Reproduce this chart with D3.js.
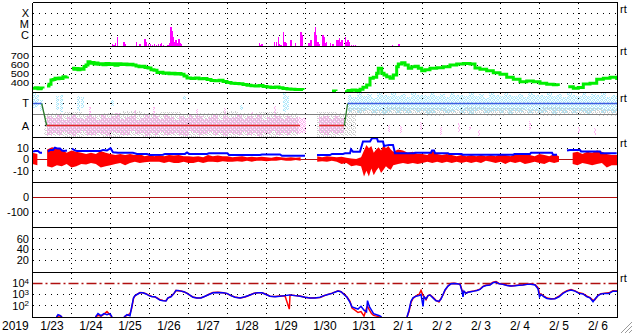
<!DOCTYPE html>
<html><head><meta charset="utf-8">
<script src="https://cdn.jsdelivr.net/npm/d3@7"></script>
<style>
body{margin:0;background:#fff}
svg{display:block}
text{font-family:"Liberation Sans",Arial,sans-serif;font-size:12px;fill:#000}
</style></head>
<body><svg id="c" width="633" height="334"></svg>
<script>
// ---------- DATA (time = days since 2019-01-23 00:00 UT) ----------
const year = "2019";
const dayLabels = ["1/23","1/24","1/25","1/26","1/27","1/28","1/29","1/30","1/31","2/ 1","2/ 2","2/ 3","2/ 4","2/ 5","2/ 6"];

// X-ray flux (hourly bars)
const xrayDay  = [1.756,2.031,2.072,2.115,2.159,2.2,2.328,2.372,2.654,2.738,2.867,2.903,2.962,3.013,3.064,3.115,3.167,3.218,3.269,3.295,3.346,3.456,3.5,3.533,3.559,3.595,3.628,3.662,3.697,3.738,3.782,3.808,5.005,5.705,5.808,5.833,5.867,6.192,6.236,6.287,6.321,6.354,6.423,6.456,6.492,6.61,6.731,6.867,6.892,6.995,7.072,7.123,7.21,7.236,7.269,7.303,7.338,7.431,7.456,7.482,7.526,7.628,7.687,7.774,7.815,7.851,7.885,7.918,8.013,8.038,8.072,8.097,8.167,8.218,8.269,9.21,9.372,9.397];
const xrayFlux = [1.1e-7,1.7e-7,1.4e-7,1.9e-7,6.9e-7,1.1e-7,2.6e-7,1.7e-7,2.6e-7,1.7e-7,4.5e-7,2.4e-7,1.8e-7,1.7e-7,1.4e-7,1.7e-7,1.4e-7,1.8e-7,1.7e-7,2.2e-7,1.4e-7,1.4e-7,1.9e-7,5.6e-6,2.8e-6,7.8e-7,2.8e-7,3.9e-7,2.2e-7,4.5e-7,1.9e-7,1.6e-7,1.1e-7,1.1e-7,1.9e-7,1.4e-7,1.6e-7,2.6e-7,2.6e-7,6.9e-7,1.7e-7,1.4e-7,2.1e-6,2.6e-7,1.9e-7,3.9e-7,1.9e-7,2.1e-6,1.1e-6,1.1e-7,1.9e-7,3.9e-7,2.1e-6,5.6e-6,1.05e-6,2.6e-7,1.6e-7,1.2e-6,7.8e-7,1.9e-7,2.6e-7,1.9e-7,1.6e-7,3.9e-7,3.9e-7,5.9e-7,2.6e-7,3.9e-7,7.8e-7,2.8e-7,3.9e-7,2.6e-7,1.3e-7,1.3e-7,1.3e-7,1.5e-7,1.7e-7,1.7e-7];

// Solar wind speed (km/s), null = gap
const speedDay = [0.013,0.077,0.141,0.218,0.269,0.3,0.372,0.423,0.474,0.526,0.577,0.628,0.679,0.731,0.782,0.833,0.897,0.93,1.013,1.064,1.115,1.167,1.218,1.269,1.321,1.372,1.423,1.474,1.526,1.577,1.628,1.679,1.731,1.808,1.885,1.962,2.038,2.115,2.192,2.269,2.346,2.423,2.5,2.577,2.654,2.731,2.808,2.885,2.962,3.038,3.115,3.192,3.269,3.346,3.423,3.5,3.577,3.654,3.731,3.808,3.885,3.962,4.064,4.167,4.269,4.372,4.474,4.577,4.679,4.782,4.885,4.987,5.09,5.192,5.295,5.397,5.5,5.603,5.705,5.808,5.91,6.013,6.115,6.218,6.321,6.423,6.526,6.628,6.731,6.833,6.936,6.97,7.679,7.782,7.85,8.013,8.09,8.192,8.295,8.397,8.474,8.569,8.654,8.738,8.826,8.867,8.954,9.013,9.082,9.167,9.251,9.338,9.379,9.467,9.551,9.636,9.723,9.808,9.892,9.979,10.064,10.192,10.364,10.533,10.705,10.877,11.046,11.218,11.346,11.474,11.646,11.815,11.987,12.159,12.328,12.5,12.672,12.841,13.013,13.185,13.354,13.482,13.55,13.738,13.867,13.995,14.123,14.295,14.467,14.636,14.808,14.979];
const speedVal = [341,346,337,344,340,null,367,385,433,440,452,446,456,449,470,466,473,null,563,552,560,548,557,553,583,600,637,620,627,612,622,608,613,604,616,606,613,598,614,606,612,603,609,600,588,580,586,572,566,546,542,516,520,507,512,504,509,500,506,498,478,455,450,456,446,450,440,428,425,430,418,405,398,395,392,384,376,370,366,372,362,355,350,356,348,340,333,330,327,329,322,null,312,310,null,303,316,322,318,330,352,378,452,463,508,563,508,490,470,452,489,581,611,626,600,563,581,585,563,537,548,563,570,581,600,611,618,611,567,552,537,515,496,463,441,415,422,415,396,385,380,367,null,359,341,350,389,396,441,452,463,433];

// IMF sector polarity
const sectorDay = [0,0.236,0.364,6.86,6.9,7.35,7.995,8.08,15];
const sectorPol = ["T","T","A","A",null,"A","A","T","T"];
// IMF angle scatter (degrees), 3-hour bins
const awayDay = [0.375,0.5,0.625,0.75,0.875,1,1.125,1.25,1.375,1.5,1.625,1.75,1.875,2,2.125,2.25,2.375,2.5,2.625,2.75,2.875,3,3.125,3.25,3.375,3.5,3.625,3.75,3.875,4,4.125,4.25,4.375,4.5,4.625,4.75,4.875,5,5.125,5.25,5.375,5.5,5.625,5.75,5.875,6,6.125,6.25,6.375,6.5,6.625,6.75,6.875,7.35,7.475,7.6,7.725,7.85];
const awayLo  = [20,35,15,40,25,10,30,45,20,15,35,25,10,40,30,20,15,45,25,35,10,30,20,40,15,25,35,20,10,45,30,15,25,40,20,35,10,30,25,15,40,20,30,10,35,25,45,15,30,20,40,25,35,30,20,40,25,35];
const awayHi  = [165,150,175,140,160,185,155,145,170,160,135,175,150,165,190,145,160,170,140,155,180,150,165,145,175,160,140,170,155,185,150,165,145,160,175,140,170,155,160,180,145,165,150,175,140,160,155,170,145,165,150,160,155,160,170,145,165,150];
const towardDay = [8.08,8.205,8.33,8.455,8.58,8.705,8.83,8.955,9.08,9.205,9.33,9.455,9.58,9.705,9.83,9.955,10.08,10.205,10.33,10.455,10.58,10.705,10.83,10.955,11.08,11.205,11.33,11.455,11.58,11.705,11.83,11.955,12.08,12.205,12.33,12.455,12.58,12.705,12.83,12.955,13.08,13.205,13.33,13.455,13.58,13.705,13.83,13.955,14.08,14.205,14.33,14.455,14.58,14.705,14.83,14.955];
const towardLo  = [200,215,190,205,220,195,210,185,200,215,195,205,190,220,200,210,185,195,215,205,190,200,220,195,210,185,205,215,190,200,210,195,220,185,205,200,215,190,210,195,200,220,185,205,195,215,190,210,200,185,205,220,195,210,190,200];
const towardHi  = [340,320,350,330,345,315,355,335,325,350,330,345,320,355,335,340,325,350,330,345,320,355,335,340,325,350,330,345,315,355,335,325,350,340,330,345,320,355,335,340,325,350,330,345,320,355,340,330,350,325,345,335,350,320,340,330];
const otherDay = [0.3,0.8,1.3,1.8,2.3,2.8,3.3,3.8,4.3,4.8,5.3,5.8,6.3,7.3,7.8,8.1,8.6,9.1,9.6,10.1,10.6,11.1,11.6,12.1,12.6,13.1,13.6,14.1,14.5];
const otherLo  = [5,0,10,0,5,0,10,0,5,0,10,0,5,0,10,175,170,180,175,170,180,175,170,180,175,170,180,175,170];
const otherHi  = [190,200,185,195,205,190,200,185,195,205,190,200,195,200,190,235,225,240,230,235,225,240,230,235,225,240,230,235,225];
const towardSpikeDay = [0.02,0.1,0.2,0.6,0.7,1.15,1.25,2.0,3.86,5.32,6.42,6.5];
const towardSpikeLo  = [230,240,210,220,200,210,230,250,300,220,200,220];
const towardSpikeHi  = [350,340,300,330,340,330,320,300,330,260,350,330];
const awaySpikeDay = [1.45,2.6,3.1,4.2,4.9,5.6,6.2,9.12,9.42,9.94,10.45,10.9,11.2,11.42,12.73,13.99,14.4];
const awaySpikeLo  = [120,130,125,140,120,135,130,40,30,60,20,40,50,10,60,30,20];
const awaySpikeHi  = [240,215,250,225,235,210,245,100,90,120,80,110,90,60,130,80,70];

// IMF |B| (nT)
const btDay = [0.013,0.064,0.141,0.192,0.244,0.3,0.397,0.449,0.526,0.577,0.628,0.705,0.756,0.808,0.885,0.93,1.013,1.064,1.141,1.218,1.346,1.474,1.603,1.731,1.808,1.91,2.0,2.064,2.192,2.372,2.577,2.679,2.936,3.013,3.346,3.397,3.91,3.962,4.013,4.474,4.526,5.0,5.038,5.833,5.885,6.346,6.397,6.987,7.1,7.295,7.628,7.679,7.962,8.013,8.141,8.167,8.218,8.397,8.423,8.474,8.654,8.705,8.833,8.859,8.987,9.013,9.141,9.244,9.295,9.782,9.808,10.218,10.244,10.295,10.321,10.654,10.679,11.0,11.026,12.333,12.359,12.756,12.782,13.321,13.346,13.449,13.5,13.705,13.782,14.038,14.064,14.551,14.577,14.979];
const btVal = [7,7.5,7.5,6,6,null,7,8.5,8.5,10.5,9.8,9.8,8,7.5,8,null,9.8,8.5,7.5,7.5,7.5,7.5,7.5,7.5,8.5,8,10,6.5,6,6,6,5,5,4,4.2,5,5,6.3,5,5,5.5,5.5,4,4,4.5,4.5,3.3,3.3,null,4,4,5,5,5.5,5.5,9,7,7,10,16,16,19,19,16,16,12,13,13,5.6,5.6,6,6,8,8,5.6,5.6,5,5,4.3,4.3,5,5,6,6,4.3,4.3,null,8,8.5,8.5,7.2,7.2,5.6,5.6];

// IMF Bz (nT) envelope per 3-hour bin
const bzDay = [0,0.125,0.25,0.375,0.5,0.625,0.75,0.875,1.0,1.125,1.25,1.375,1.5,1.625,1.75,1.875,2.0,2.125,2.25,2.375,2.5,2.625,2.75,2.875,3.0,3.125,3.25,3.375,3.5,3.625,3.75,3.875,4.0,4.125,4.25,4.375,4.5,4.625,4.75,4.875,5.0,5.125,5.25,5.375,5.5,5.625,5.75,5.875,6.0,6.125,6.25,6.375,6.5,6.625,6.75,6.875,6.975,7.3,7.425,7.55,7.675,7.8,7.925,8.05,8.175,8.3,8.425,8.5,8.5625,8.625,8.6875,8.75,8.8125,8.875,8.9375,9.0,9.0625,9.125,9.1875,9.25,9.375,9.5,9.625,9.75,9.875,10.0,10.125,10.25,10.375,10.5,10.625,10.75,10.875,11.0,11.125,11.25,11.375,11.5,11.625,11.75,11.875,12.0,12.125,12.25,12.375,12.5,12.625,12.75,12.875,13.0,13.125,13.25,13.375,13.5,13.56,13.85,13.975,14.1,14.225,14.35,14.475,14.6,14.725,14.85,15.0];
const bzHi = [6,5,null,9,11,10,9,6,8,7,6,5,6,5,7.5,6,5,4,5,4,5,4,5,3,4,3,4,3,4,3.5,4,3,3,2.5,3,2,4,3,3.5,3,3,2,2.5,3,2,2.5,2,2.5,2,1.5,2.5,2,1.5,2,1.5,2,null,3,2,3,2.5,2,2.5,1.5,1,0.5,2,8,13,10,12,6,9,11,8,13,10,12,9,7,9,8,6,7,5,5,4,8,5,4,5,4,3,4,3,4,3,4,3,4,3,5,4,3,5,4,5,4,3,5,4,3,5,3,null,6,7,5,7,6,8,7,5,4,4];
const bzLo = [-4,-5,null,-6,-7,-5,-6,-4,-7,-6,-4,-4.5,-3,-4,-7,-6,-5,-4,-3,-5,-3,-2,-3,-2.5,-2,-2,-2,-3,-2,-3,-3,-2,-3,-3,-2,-3,-2,-2,-2.5,-1.5,-2,-2,-1.5,-2,-1,-2,-1,-1,-1.5,-1,-1,-0.5,-1,-1,-0.5,-1,null,-2,-1.5,-2,-1,-2,-4,-3,-6,-5,-6,-15,-10,-15,-8,-14,-10,-7,-12,-9,-6,-8,-9,-5,-4,-3,-4,-3,-4,-3,-2,-3,-2,-3,-2,-3,-2,-3,-2,-3,-2,-3,-1,-2,-3,-2,-4,-2,-3,-2,-4,-3,-2,-3,-4,-2,-3,-2,null,-4,-5,-3,-4,-5,-4,-3,-7,-5,-5];

// Proton flux (two channels)
const protonDay = [0.58,0.615,0.654,0.705,0.756,0.782,1.577,1.615,1.679,1.756,1.833,1.91,1.987,2.038,2.09,2.321,2.346,2.423,2.5,2.538,2.564,2.59,2.628,2.679,2.756,2.833,2.91,2.987,3.064,3.141,3.218,3.269,3.346,3.423,3.474,3.551,3.628,3.679,3.731,3.808,3.885,3.962,4.038,4.115,4.218,4.321,4.423,4.526,4.628,4.756,4.885,4.987,5.09,5.192,5.321,5.449,5.577,5.679,5.782,5.885,5.987,6.09,6.218,6.346,6.474,6.585,6.603,6.731,6.859,6.987,7.115,7.244,7.372,7.474,7.577,7.679,7.782,7.833,7.91,7.987,8.064,8.141,8.192,8.269,8.346,8.423,8.5,8.564,8.59,8.641,8.692,8.744,8.821,8.897,8.949,9.0,9.577,9.603,9.654,9.705,9.756,9.833,9.91,9.962,10.013,10.038,10.09,10.141,10.192,10.269,10.346,10.423,10.474,10.526,10.577,10.654,10.731,10.808,10.885,10.962,11.013,11.038,11.064,11.115,11.167,11.244,11.321,11.397,11.474,11.551,11.628,11.731,11.808,11.885,11.962,12.064,12.167,12.269,12.372,12.474,12.577,12.679,12.782,12.885,12.962,13.0,13.038,13.115,13.192,13.295,13.397,13.5,13.603,13.705,13.808,13.91,14.013,14.115,14.218,14.295,14.372,14.423,14.5,14.577,14.679,14.782,14.885,14.987];
const protonBlue = [null,10,16,14,10,null,null,10,20,13,20,16,20,10,null,null,10,16,13,63,178,501,794,1000,1413,1413,1122,794,631,631,417,316,282,263,501,631,1259,2239,2239,1995,1778,1259,891,562,501,501,708,1000,1413,1514,1413,1259,794,562,501,631,891,1259,1413,1413,1000,708,631,708,794,891,891,794,708,562,501,501,562,794,1000,1259,1778,1995,1778,1000,562,200,79,63,50,89,40,28,282,79,40,20,16,13,10,null,null,10,40,251,501,708,794,1000,89,631,398,794,891,501,282,251,398,1000,2512,5623,8913,9333,8913,7943,1995,631,1995,1259,1585,1778,1995,2239,2818,5012,6310,7079,11220,12589,8913,7943,6310,5623,6026,6607,7079,7943,8318,7079,3162,631,1000,631,447,398,417,631,1259,1995,2512,1995,1259,1122,631,501,224,398,794,1122,1259,1259,1995,1995];
const protonRed  = [null,10,12,13,10,null,null,10,14,12,18,30,16,10,null,null,10,14,20,50,150,450,760,1050,1500,1450,1200,850,680,600,450,340,300,280,480,680,1200,2300,2100,2000,1700,1300,850,600,480,520,680,1050,1500,1600,1400,1200,800,600,500,600,900,1300,1450,1400,1050,700,650,720,780,50,900,800,750,580,500,520,550,780,1020,1300,1800,2100,1750,1100,600,250,63,40,25,30,12,60,89,40,20,14,12,10,10,null,null,10,30,200,450,760,1000,2290,800,700,350,800,950,550,300,220,450,900,2300,5800,9500,10000,9200,8500,2500,1500,1800,1400,1600,1900,2100,2400,3000,5300,6600,7500,12500,14000,9500,8200,6600,5800,6300,6900,7400,8300,8900,7600,4000,1200,1100,700,480,420,450,700,1400,2200,2700,2100,1400,1200,700,520,300,350,850,1200,1300,1400,2200,2100];

// axis tick labels
const xrayTicks = [1e-4,1e-5,1e-6], xrayNames = ["X","M","C"];
const speedTicks = [700,600,500,400];
const sectorTicks = [270,90], sectorNames = ["T","A"];
const bzTicks = [10,0,-10];
const dstTicks = [0,-100];
const kTicks = [60,40,20];
const protonTicks = [1e4,1e3,1e2];

// ---------- LAYOUT ----------
const svg = d3.select("#c");
const X0 = 32.5, X1 = 617.5;
const edges = [2.5,46.5,92,137,182,227,272,317.5];
const t0 = Date.UTC(2019,0,23);
const toDate = d => new Date(t0 + d*864e5);
const x = d3.scaleUtc().domain([toDate(0), toDate(15)]).range([X0, X1]);
const xd = d => x(toDate(d));
const snap = v => Math.floor(v) + 0.5;

const yX = d3.scaleLog().domain([1e-7,1e-3]).range([46.5,2.5]).clamp(true);
const yV = d3.scaleLinear().domain([300,800]).range([92,47]);
const yS = d3.scaleLinear().domain([0,360]).range([137,92]);
const yB = d3.scaleLinear().domain([-20,20]).range([182,137]);
const yD = d3.scaleLinear().domain([-200,100]).range([227,182]);
const yK = d3.scaleLinear().domain([-2,82]).range([272,227]);
const yP = d3.scaleLog().domain([10,1e5]).range([317,272]).clamp(true);

const defs = svg.append("defs");
edges.slice(0,-1).forEach((t,i)=>{
  defs.append("clipPath").attr("id","cp"+i).append("rect")
    .attr("x",X0).attr("y",t).attr("width",X1-X0).attr("height",edges[i+1]-t);
});
function pat(id,color,cells){
  const p = defs.append("pattern").attr("id",id).attr("patternUnits","userSpaceOnUse")
    .attr("width",4).attr("height",4);
  cells.forEach(([a,b])=>
    p.append("rect").attr("x",a).attr("y",b).attr("width",1).attr("height",1).attr("fill",color));
}
const cellsA = [[0,0],[2,0],[1,1],[3,1],[0,2],[3,2],[1,3],[2,3]];
const cellsB = [[1,0],[3,0],[0,1],[2,2],[1,2],[3,3]];
pat("pPink","#ffb2f2",cellsA); pat("pBlue","#aee8fb",cellsA); pat("pGray","#cfcfcf",cellsB);

const grid = svg.append("g").attr("shape-rendering","crispEdges");
function hgrid(y){
  grid.append("line").attr("x1",X0).attr("x2",X1).attr("y1",snap(y)).attr("y2",snap(y))
    .attr("stroke","#000").attr("stroke-dasharray","1,5");
}
d3.range(1,15).forEach(d=>{
  grid.append("line").attr("x1",snap(xd(d))).attr("x2",snap(xd(d))).attr("y1",edges[0]).attr("y2",edges[7])
    .attr("stroke","#000").attr("stroke-dasharray","1,4");
});
xrayTicks.forEach(v=>hgrid(yX(v)));
speedTicks.forEach(v=>hgrid(yV(v)));
sectorTicks.forEach(v=>hgrid(yS(v)));
bzTicks.filter(v=>v!==0).forEach(v=>hgrid(yB(v)));
dstTicks.filter(v=>v!==0).forEach(v=>hgrid(yD(v)));
kTicks.forEach(v=>hgrid(yK(v)));
protonTicks.filter(v=>v<1e4).forEach(v=>hgrid(yP(v)));

const dark = "#b01010";
// ---------- Panel 1: X-ray ----------
const g1 = svg.append("g").attr("clip-path","url(#cp0)").attr("shape-rendering","crispEdges");
g1.selectAll("rect").data(xrayDay.map((d,i)=>({d,v:xrayFlux[i]}))).join("rect")
  .attr("x",p=>xd(p.d)).attr("width",p=>Math.max(1.3,xd(p.d+1/24)-xd(p.d)-0.2))
  .attr("y",p=>yX(p.v)).attr("height",p=>yX(1e-7)-yX(p.v)).attr("fill","#ff00ff");

// ---------- Panel 2: speed ----------
const g2 = svg.append("g").attr("clip-path","url(#cp1)");
g2.append("path").datum(speedDay.map((d,i)=>({d,v:speedVal[i]})))
  .attr("fill","none").attr("stroke","#00ee00").attr("stroke-width",3)
  .attr("d",d3.line().defined(p=>p.v!=null).curve(d3.curveStepAfter).x(p=>xd(p.d)).y(p=>yV(p.v)));

// ---------- Panel 3: sector ----------
const g3 = svg.append("g").attr("clip-path","url(#cp2)").attr("shape-rendering","crispEdges");
function bands(days,lo,hi,span,w,fill){
  g3.append("g").selectAll("rect").data(days.map((d,i)=>({d,lo:lo[i],hi:hi[i]}))).join("rect")
    .attr("x",p=>xd(p.d)).attr("width",p=>w?w:Math.max(1,xd(p.d+span)-xd(p.d)))
    .attr("y",p=>yS(p.hi)).attr("height",p=>yS(p.lo)-yS(p.hi)).attr("fill",fill);
}
bands(otherDay,otherLo,otherHi,0.5,0,"url(#pGray)");
bands(awayDay,awayLo,awayHi,0.125,0,"url(#pPink)");
bands(towardDay,towardLo,towardHi,0.125,0,"url(#pBlue)");
bands(towardSpikeDay,towardSpikeLo,towardSpikeHi,0,3,"url(#pBlue)");
bands(awaySpikeDay,awaySpikeLo,awaySpikeHi,0,2,"url(#pPink)");
g3.append("line").attr("x1",X0).attr("x2",X1).attr("y1",snap(yS(180))).attr("y2",snap(yS(180)))
  .attr("stroke","#808080");
const polY = p => p==="T" ? yS(270) : yS(90);
const g3b = svg.append("g").attr("clip-path","url(#cp2)");
for(let i=0;i<sectorDay.length-1;i++){
  const a=sectorPol[i], b=sectorPol[i+1];
  if(a==null||b==null) continue;
  const col = a!==b ? "#2a7a2a" : (a==="T" ? "#3d5ce0" : "#e02828");
  g3b.append("line").attr("x1",xd(sectorDay[i])).attr("x2",xd(sectorDay[i+1]))
    .attr("y1",snap(polY(a))).attr("y2",snap(polY(b))).attr("stroke",col).attr("stroke-width",1.3);
}

// ---------- Panel 4: IMF ----------
const g4 = svg.append("g").attr("clip-path","url(#cp3)");
g4.append("line").attr("x1",X0).attr("x2",X1).attr("y1",snap(yB(0))).attr("y2",snap(yB(0))).attr("stroke",dark);
g4.append("path").datum(bzDay.map((d,i)=>({d,lo:bzLo[i],hi:bzHi[i]})))
  .attr("fill","#ff0000")
  .attr("d",d3.area().defined(p=>p.hi!=null).curve(d3.curveLinear)
    .x(p=>xd(p.d)).y0(p=>yB(p.lo)).y1(p=>yB(p.hi)));
g4.append("path").datum(btDay.map((d,i)=>({d,v:btVal[i]})))
  .attr("fill","none").attr("stroke","#0000ff").attr("stroke-width",2)
  .attr("d",d3.line().defined(p=>p.v!=null).x(p=>xd(p.d)).y(p=>yB(p.v)));

// ---------- Panel 5: Dst zero line ----------
svg.append("line").attr("x1",X0).attr("x2",X1).attr("y1",snap(yD(0))).attr("y2",snap(yD(0))).attr("stroke",dark);

// ---------- Panel 7: protons ----------
const g7 = svg.append("g").attr("clip-path","url(#cp6)");
g7.append("line").attr("x1",X0).attr("x2",X1).attr("y1",snap(yP(1e4))).attr("y2",snap(yP(1e4)))
  .attr("stroke",dark).attr("stroke-width",1.3).attr("stroke-dasharray","10,3,2,3");
const pl = key => d3.line().defined(p=>p[key]!=null).x(p=>xd(p.d)).y(p=>yP(p[key]));
const prot = protonDay.map((d,i)=>({d,b:protonBlue[i],r:protonRed[i]}));
g7.append("path").datum(prot).attr("fill","none").attr("stroke","#ff0000").attr("stroke-width",1.5).attr("d",pl("r"));
g7.append("path").datum(prot).attr("fill","none").attr("stroke","#0000ff").attr("stroke-width",1.5).attr("d",pl("b"));

// ---------- frame ----------
const frame = svg.append("g").attr("stroke","#000").attr("shape-rendering","crispEdges");
edges.forEach(y=>frame.append("line").attr("x1",X0).attr("x2",X1).attr("y1",snap(y)).attr("y2",snap(y)));
frame.append("line").attr("x1",X0).attr("x2",X0).attr("y1",snap(edges[0])).attr("y2",snap(edges[7]));
frame.append("line").attr("x1",X1).attr("x2",X1).attr("y1",snap(edges[0])).attr("y2",snap(edges[7]));

// ---------- labels ----------
const LX = 29;
function lab(y,txt,sy){
  svg.append("text").attr("transform",`translate(${LX},${y}) scale(1,${sy||1})`)
    .attr("dy","0.36em").attr("text-anchor","end").style("font-size","11px").text(txt);
}
xrayTicks.forEach((v,i)=>lab(yX(v),xrayNames[i]));
speedTicks.forEach(v=>lab(yV(v),v,0.8));
sectorTicks.forEach((v,i)=>lab(yS(v),sectorNames[i]));
bzTicks.forEach(v=>lab(yB(v),v));
dstTicks.forEach(v=>lab(yD(v),v));
kTicks.forEach(v=>lab(yK(v),v));
protonTicks.forEach(v=>{
  const t = svg.append("text").attr("x",LX).attr("y",yP(v)).attr("dy","0.36em").attr("text-anchor","end").style("font-size","11px");
  t.append("tspan").text("10");
  t.append("tspan").attr("dy","-0.45em").style("font-size","8px").text(Math.round(Math.log10(v)));
});
svg.append("text").attr("x",2).attr("y",330).text(year);
dayLabels.forEach((s,i)=>svg.append("text").attr("x",xd(i+0.5)).attr("y",330)
  .attr("text-anchor","middle").style("white-space","pre").text(s));
[yX(1e-4),yV(700),yS(270),yB(10),yP(1e4)].forEach(y=>
  svg.append("text").attr("x",620).attr("y",y-1).style("font-size","11px").text("rt"));
const grip = svg.append("g").attr("stroke","#9a9a9a");
[0,4,8].forEach(o=>grip.append("line").attr("x1",621+o).attr("y1",333).attr("x2",632).attr("y2",322+o));
</script></body></html>
